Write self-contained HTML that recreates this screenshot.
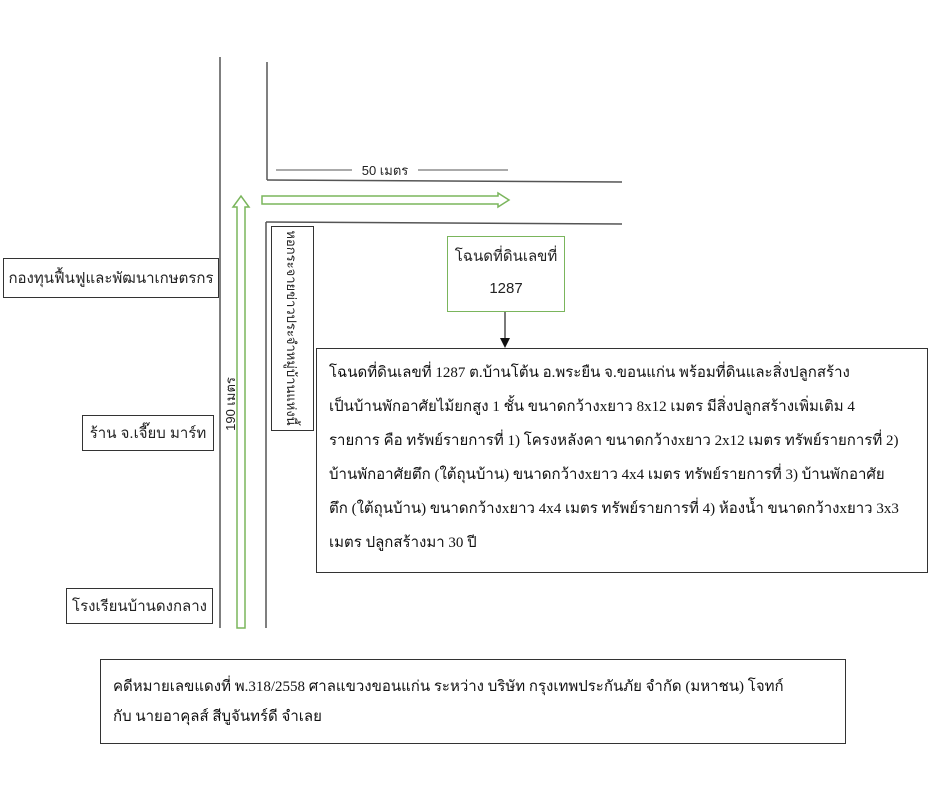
<!DOCTYPE html>
<html><head><meta charset="utf-8"><style>
body{margin:0;width:929px;height:800px;background:#fff;position:relative;overflow:hidden;font-family:"Liberation Sans","DejaVu Sans",sans-serif;}
.a{position:absolute;}
.box{position:absolute;border:1.5px solid #333;box-sizing:border-box;background:#fff;}
.lbl{display:flex;align-items:center;justify-content:center;font-size:15px;color:#222;white-space:nowrap;}
.serif{font-family:"Liberation Serif","DejaVu Serif",serif;font-size:15px;color:#111;line-height:29px;white-space:nowrap;overflow:hidden;}
</style></head><body>
<svg class="a" style="left:0;top:0" width="929" height="800">
<g stroke="#555" stroke-width="1.5" fill="none">
<line x1="220" y1="57" x2="220" y2="628"/>
<line x1="267" y1="62" x2="267" y2="180"/>
<line x1="267" y1="180" x2="622" y2="182"/>
<line x1="266" y1="222" x2="266" y2="628"/>
<line x1="266" y1="222" x2="622" y2="224"/>
<line x1="276" y1="170" x2="352" y2="170" stroke-width="1"/>
<line x1="418" y1="170" x2="508" y2="170" stroke-width="1"/>
</g>
<g stroke="#7ab55c" stroke-width="1.5" fill="none">
<polygon points="262,196 498,196 498,193 509,200 498,207 498,204 262,204"/>
<polygon points="237,628 237,207 233,207 241,196 249,207 245,207 245,628"/>
</g>
<line x1="505" y1="311" x2="505" y2="340" stroke="#222" stroke-width="1.2"/>
<polygon points="500,338 510,338 505,348" fill="#111"/>
</svg>
<div class="a lbl" style="left:352px;top:161px;width:66px;height:18px;font-size:13px;">50 เมตร</div>
<div class="a lbl" style="left:190px;top:395px;width:80px;height:18px;font-size:13px;transform:rotate(-90deg);">190 เมตร</div>
<div class="box lbl" style="left:3px;top:258px;width:216px;height:40px;">กองทุนฟื้นฟูและพัฒนาเกษตรกร</div>
<div class="box lbl" style="left:82px;top:415px;width:132px;height:36px;">ร้าน จ.เจี๊ยบ มาร์ท</div>
<div class="box lbl" style="left:66px;top:588px;width:147px;height:36px;">โรงเรียนบ้านดงกลาง</div>
<div class="box" style="left:271px;top:226px;width:43px;height:205px;"></div>
<div class="a lbl" style="left:192px;top:318px;width:200px;height:20px;font-size:13px;transform:rotate(90deg);">หอกระจายข่าวประจำหมู่บ้านแห่งนี้</div>
<div class="box" style="left:447px;top:236px;width:118px;height:76px;border:1.5px solid #7ab55c;text-align:center;font-size:15px;color:#222;line-height:32px;padding-top:4px;">โฉนดที่ดินเลขที่<br>1287</div>
<div class="box serif" style="left:316px;top:348px;width:612px;height:225px;padding:7px 6px 0 12px;line-height:34px;">โฉนดที่ดินเลขที่ 1287 ต.บ้านโต้น อ.พระยืน จ.ขอนแก่น พร้อมที่ดินและสิ่งปลูกสร้าง<br>เป็นบ้านพักอาศัยไม้ยกสูง 1 ชั้น ขนาดกว้างxยาว 8x12 เมตร มีสิ่งปลูกสร้างเพิ่มเติม 4<br>รายการ คือ ทรัพย์รายการที่ 1) โครงหลังคา ขนาดกว้างxยาว 2x12 เมตร ทรัพย์รายการที่ 2)<br>บ้านพักอาศัยตึก (ใต้ถุนบ้าน) ขนาดกว้างxยาว 4x4 เมตร ทรัพย์รายการที่ 3) บ้านพักอาศัย<br>ตึก (ใต้ถุนบ้าน) ขนาดกว้างxยาว 4x4 เมตร ทรัพย์รายการที่ 4) ห้องน้ำ ขนาดกว้างxยาว 3x3<br>เมตร ปลูกสร้างมา 30 ปี</div>
<div class="box serif" style="left:100px;top:659px;width:746px;height:85px;padding:12px 10px 0 12px;line-height:30px;">คดีหมายเลขแดงที่ พ.318/2558 ศาลแขวงขอนแก่น ระหว่าง บริษัท กรุงเทพประกันภัย จำกัด (มหาชน) โจทก์<br>กับ นายอาคุลส์ สีบูจันทร์ดี จำเลย</div>
</body></html>
